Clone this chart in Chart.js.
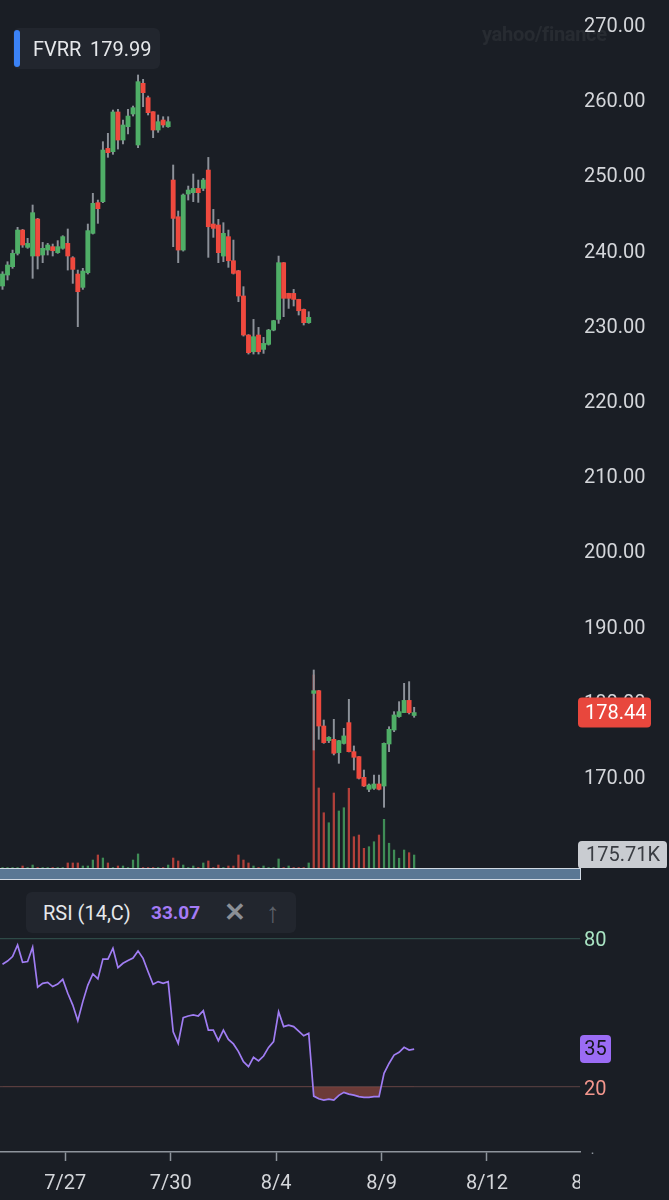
<!DOCTYPE html>
<html>
<head>
<meta charset="utf-8">
<script src="https://cdn.jsdelivr.net/npm/chart.js@4.4.1/dist/chart.umd.min.js"></script>
<style>
html,body{margin:0;padding:0;background:#1a1e25;width:669px;height:1200px;overflow:hidden;font-family:Roboto,'Liberation Sans',sans-serif;}
#wrap{position:relative;width:669px;height:1200px;}
#c1{position:absolute;left:0;top:0;}
#c2{position:absolute;left:0;top:880px;}
#sep{position:absolute;left:0;top:868px;width:580px;height:10px;background:#5a7794;border:1px solid #cfd8e2;border-left:none;}
#hdr{position:absolute;left:13px;top:28px;width:147px;height:41px;background:#22262e;border-radius:6px;}
#hdrbar{position:absolute;left:14px;top:30px;width:6px;height:37px;background:#3b82f6;border-radius:3px;}
#hdrSym{position:absolute;left:33px;top:37px;font-size:20px;color:#e6e8eb;}
#hdrPx{position:absolute;left:90px;top:37px;font-size:20px;color:#e6e8eb;}
#wm{position:absolute;left:482px;top:22px;font-size:20px;font-weight:bold;color:rgba(255,255,255,0.06);letter-spacing:-0.3px;}
#rsibox{position:absolute;left:26px;top:892px;width:270px;height:41px;background:#22262e;border-radius:6px;}
#rsiName{position:absolute;left:43px;top:901px;font-size:20px;color:#e6e8eb;}
#rsiVal{position:absolute;left:151px;top:901px;font-size:19px;font-weight:bold;color:#a57bf7;}
#rsiX{position:absolute;left:224px;top:897px;font-size:26px;font-weight:bold;color:#8b8f96;}
#rsiUp{position:absolute;left:266px;top:896px;font-size:28px;color:#5d6169;}
</style>
</head>
<body>
<div id="wrap">
<canvas id="c1" width="669" height="868"></canvas>
<canvas id="c2" width="669" height="320"></canvas>
<div id="sep"></div>
<div id="hdr"></div><div id="hdrbar"></div>
<div id="hdrSym"></div><div id="hdrPx"></div>
<div id="wm">yahoo/finance</div>
<div id="rsibox"></div>
<div id="rsiName"></div><div id="rsiVal"></div>
<div id="rsiX">✕</div><div id="rsiUp">↑</div>
</div>
<script>
// ---------------- DATA ----------------
const symbol = 'FVRR';
const headerPrice = 179.99;
const rsiName = 'RSI (14,C)';
const rsiReading = 33.07;

const opens = [235.16,236.62,237.73,239.50,242.60,240.30,239.15,244.07,239.28,239.94,240.39,239.59,240.17,240.83,238.92,236.75,234.98,236.93,242.16,246.24,246.37,253.46,253.02,258.30,254.57,256.34,258.03,253.91,262.11,260.20,258.34,255.90,257.23,256.34,
249.25,244.37,239.94,247.39,247.57,248.14,248.14,250.58,243.40,243.27,239.14,241.72,238.52,237.19,233.83,228.64,226.42,228.64,226.73,227.40,229.30,230.72,238.26,234.18,234.18,233.38,232.05,230.28,
180.99,181.35,176.65,174.70,174.88,173.11,174.33,177.10,173.24,172.58,169.83,168.23,168.36,168.94,168.67,174.26,176.12,177.90,178.43,180.06,178.05];
const closes = [236.75,237.95,239.50,242.60,240.61,240.83,244.91,239.15,240.17,240.61,239.85,240.39,241.72,239.15,237.37,234.40,237.15,242.52,246.15,245.44,253.24,252.89,258.30,254.57,256.57,257.76,258.87,262.33,260.87,258.21,255.90,257.01,256.57,257.01,
244.15,239.94,247.26,247.92,248.14,247.57,249.25,243.04,242.82,239.59,242.16,238.52,236.84,233.83,228.64,226.29,228.42,226.42,227.53,229.30,230.55,238.26,233.52,233.52,233.38,231.87,230.28,230.99,
181.35,176.65,174.44,175.15,173.02,174.70,175.33,173.24,172.49,169.69,168.67,168.81,168.94,168.23,174.35,176.21,178.12,178.56,180.06,178.43,178.44];
const highs = [237.06,238.39,239.94,242.96,242.69,241.50,245.93,244.16,240.96,240.83,240.74,241.19,241.85,242.74,239.06,237.28,237.51,243.40,247.48,246.59,254.35,255.46,258.56,258.65,257.23,258.65,259.09,263.22,262.64,260.42,258.34,257.90,257.67,257.67,
251.25,245.13,247.40,248.45,250.05,249.25,249.47,252.26,245.35,244.02,243.58,242.60,241.27,237.25,235.07,228.70,230.72,229.66,228.33,229.40,230.60,239.14,238.30,234.20,234.71,233.40,232.10,231.74,
184.10,181.40,177.45,175.24,177.54,174.75,176.34,180.20,174.00,172.60,170.80,168.94,170.14,170.14,174.40,176.56,178.56,179.89,182.33,182.55,179.14];
const lows = [234.71,235.96,237.51,239.28,240.30,240.17,236.18,237.42,238.26,239.28,239.15,239.50,240.05,237.28,235.51,229.75,234.71,236.75,242.07,243.49,246.24,252.27,252.67,253.37,254.04,255.37,257.76,253.55,259.00,257.90,254.88,255.59,256.26,256.26,
240.39,238.26,239.80,246.59,246.37,246.28,247.83,238.97,241.63,238.26,238.39,237.64,236.75,233.07,228.50,226.11,226.11,226.11,226.20,227.30,229.20,230.19,231.08,232.18,232.50,231.30,229.97,230.20,
173.46,174.88,174.35,174.44,172.80,171.69,174.25,173.20,170.80,169.60,168.60,167.92,168.23,168.15,165.84,173.24,175.90,177.81,178.43,178.25,177.81];
const volumeK = [6,6,6,6,27,6,40,6,6,6,6,6,6,68,68,68,27,27,108,176,135,68,6,27,27,6,108,190,6,6,6,6,6,40,
135,95,40,6,27,6,68,95,6,40,6,27,27,176,108,68,27,6,27,6,6,122,6,27,6,6,6,68,
2610,1082,747,612,1014,771,815,1078,423,446,266,288,355,446,658,335,243,132,243,207,175.71];
const rsi = [69.5,70.8,72.6,77.3,70.3,70.6,76.4,60.2,61.8,62.2,60.5,61.5,63.4,57.8,53.0,46.7,54.4,61.1,65.6,63.6,
71.6,71.6,76.0,68.1,69.9,71.0,72.0,74.9,71.9,66.5,61.4,62.5,61.8,62.5,42.2,37.5,47.9,48.6,49.0,48.6,
50.7,42.9,42.9,38.6,42.9,39.1,37.3,34.2,30.1,28.1,31.9,30.4,32.4,35.9,38.2,50.3,44.3,44.9,44.3,42.5,
40.6,41.6,16.2,15.1,14.6,15.0,14.6,16.5,17.7,17.0,16.6,16.0,15.7,15.7,16.0,16.0,25.4,29.4,32.8,33.9,35.9,34.8,35.2];
const tickLabels = ['7/27','7/30','8/4','8/9','8/12','8/17'];
const tickIndex = [12.5,33.5,54.5,75.5,96.5,117.5];   // candle slot where each day starts
const priceTicks = [170,180,190,200,210,220,230,240,250,260,270];
const rsiLevels = [20,80];

// ---------------- STYLE / LAYOUT ----------------
const BG = '#1a1e25';
const GREEN = '#4fae67', RED = '#ef493e', WICK = '#8c9199';
const FONT = {family:'Roboto, "Liberation Sans", sans-serif', size:20};
const X_MIN = -0.5, X_MAX = 115.04;
const AXIS_W = 89;

document.getElementById('hdrSym').textContent = symbol;
document.getElementById('hdrPx').textContent = headerPrice.toFixed(2);
document.getElementById('rsiName').textContent = rsiName;
document.getElementById('rsiVal').textContent = rsiReading.toFixed(2);

const idx = closes.map((_, i) => i);
const last = closes.length - 1;
const up = i => closes[i] >= opens[i];
const volUp = i => i === 0 ? up(i) : closes[i] >= closes[i - 1];

function roundRect(ctx, x, y, w, h, r) {
  ctx.beginPath();
  ctx.moveTo(x + r, y);
  ctx.arcTo(x + w, y, x + w, y + h, r);
  ctx.arcTo(x + w, y + h, x, y + h, r);
  ctx.arcTo(x, y + h, x, y, r);
  ctx.arcTo(x, y, x + w, y, r);
  ctx.closePath();
}

const fitY = s => { s.width = AXIS_W; s.paddingTop = 0; s.paddingBottom = 0; };

// ---------------- PRICE + VOLUME ----------------
const priceLabels = {
  id: 'priceLabels',
  afterDraw(chart) {
    const ctx = chart.ctx;
    const y = chart.scales.y.getPixelForValue(closes[last]);
    ctx.save();
    ctx.fillStyle = '#e8473d';
    roundRect(ctx, 578, y - 15, 73, 30, 4); ctx.fill();
    ctx.fillStyle = '#ffffff';
    ctx.font = '20px ' + FONT.family;
    ctx.textBaseline = 'middle'; ctx.textAlign = 'left';
    ctx.fillText(closes[last].toFixed(2), 585, y + 1);
    const vy = chart.scales.yv.getPixelForValue(volumeK[last]);
    ctx.fillStyle = '#c9ccd1';
    roundRect(ctx, 578, vy - 14, 89, 28, 4); ctx.fill();
    ctx.fillStyle = '#3a3d43';
    ctx.fillText(volumeK[last].toFixed(2) + 'K', 586, vy + 1);
    ctx.restore();
  }
};

new Chart(document.getElementById('c1'), {
  type: 'bar',
  data: {
    datasets: [
      { label:'body', yAxisID:'y', order:0, grouped:false, barThickness:4.2, minBarLength:1.5,
        data: idx.map(i => ({x:i, y:[opens[i], closes[i]]})),
        backgroundColor: c => up(c.dataIndex) ? GREEN : RED },
      { label:'wick', yAxisID:'y', order:1, grouped:false, barThickness:1.3,
        data: idx.map(i => ({x:i, y:[lows[i], highs[i]]})),
        backgroundColor: WICK },
      { label:'volume', yAxisID:'yv', order:2, grouped:false, barThickness:1.6,
        data: idx.map(i => ({x:i, y:volumeK[i]})),
        backgroundColor: c => volUp(c.dataIndex) ? 'rgba(70,160,95,0.85)' : 'rgba(205,70,62,0.85)' }
    ]
  },
  options: {
    responsive:false, animation:false, devicePixelRatio:1,
    layout:{padding:0},
    plugins:{legend:{display:false}, tooltip:{enabled:false}},
    scales: {
      x: { type:'linear', min:X_MIN, max:X_MAX, offset:false, display:false, grid:{offset:false} },
      y: { position:'right', min:157.77, max:273.19,
           afterBuildTicks: s => { s.ticks = priceTicks.map(v => ({value:v})); },
           afterFit: fitY,
           grid:{display:false, drawTicks:false}, border:{display:false},
           ticks:{color:'#d4d6da', font:FONT, padding:4, labelOffset:3, callback: v => v.toFixed(2)} },
      yv: { position:'right', display:false, min:0, max:11735 }
    }
  },
  plugins:[priceLabels]
});

// ---------------- RSI ----------------
const rsiExtras = {
  id: 'rsiExtras',
  afterDraw(chart) {
    const ctx = chart.ctx;
    ctx.save();
    ctx.fillStyle = BG;
    ctx.fillRect(chart.chartArea.right, chart.chartArea.bottom + 2, 669 - chart.chartArea.right, 60);
    const y = chart.scales.y.getPixelForValue(rsi[last]);
    ctx.fillStyle = '#9b6cf5';
    roundRect(ctx, 580, y - 14, 31, 28, 4); ctx.fill();
    ctx.fillStyle = '#15171b';
    ctx.font = '20px ' + FONT.family;
    ctx.textBaseline = 'middle'; ctx.textAlign = 'center';
    ctx.fillText(String(Math.round(rsi[last])), 595.5, y + 1);
    ctx.restore();
  }
};

new Chart(document.getElementById('c2'), {
  type: 'line',
  data: {
    datasets: [{
      data: idx.map(i => ({x:i, y:rsi[i]})),
      borderColor:'#a07df3', borderWidth:1.7, pointRadius:0, tension:0,
      fill:{target:{value:20}, above:'rgba(0,0,0,0)', below:'rgba(190,88,76,0.5)'}
    }]
  },
  options: {
    responsive:false, animation:false, devicePixelRatio:1,
    layout:{padding:0},
    plugins:{legend:{display:false}, tooltip:{enabled:false}},
    scales: {
      x: { type:'linear', min:X_MIN, max:X_MAX, position:'bottom', offset:false,
           afterBuildTicks: s => { s.ticks = tickIndex.map(v => ({value:v})); },
           afterFit: s => { s.height = 48; s.paddingLeft = 0; s.paddingRight = 0; },
           grid:{display:true, drawOnChartArea:false, drawTicks:true, tickLength:9, tickColor:'#8e949c', tickWidth:1.5},
           border:{display:true, color:'#8e949c', width:1.5},
           ticks:{color:'#d4d6da', font:FONT, padding:11, autoSkip:false, maxRotation:0,
                  callback:(v, i) => tickLabels[i]} },
      y: { position:'right', min:-6.4, max:103.57,
           afterBuildTicks: s => { s.ticks = rsiLevels.map(v => ({value:v})); },
           afterFit: fitY,
           grid:{drawTicks:false, lineWidth:1.2,
                 color: c => (c.tick && c.tick.value === 80) ? '#2e4a47' : '#4f3b3d'},
           border:{display:false},
           ticks:{font:FONT, padding:4, labelOffset:3,
                  color: c => (c.tick && c.tick.value === 80) ? '#a9e4c3' : '#f2968d'} }
    }
  },
  plugins:[rsiExtras]
});
</script>
</body>
</html>
